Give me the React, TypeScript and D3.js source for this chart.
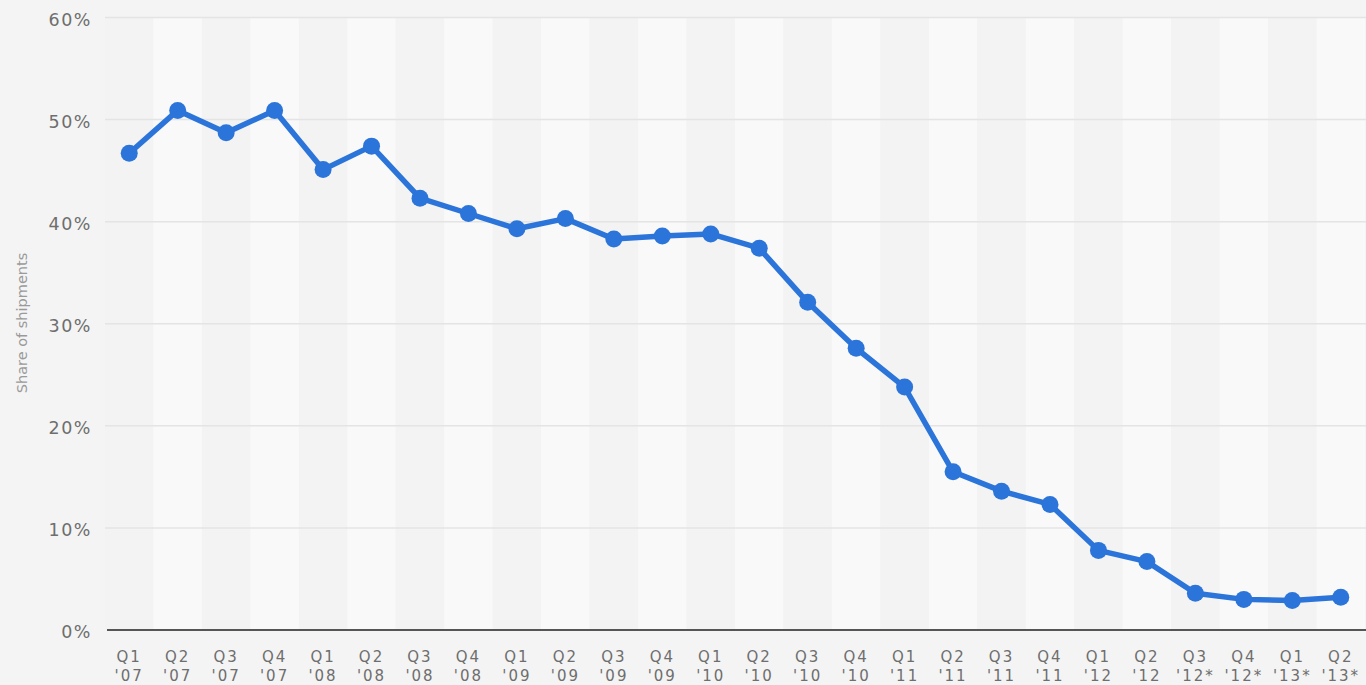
import React from 'react';
import * as d3 from 'd3';

const quarters = ['Q1', 'Q2', 'Q3', 'Q4', 'Q1', 'Q2', 'Q3', 'Q4', 'Q1', 'Q2', 'Q3', 'Q4', 'Q1', 'Q2', 'Q3', 'Q4', 'Q1', 'Q2', 'Q3', 'Q4', 'Q1', 'Q2', 'Q3', 'Q4', 'Q1', 'Q2'];
const years = ["'07", "'07", "'07", "'07", "'08", "'08", "'08", "'08", "'09", "'09", "'09", "'09", "'10", "'10", "'10", "'10", "'11", "'11", "'11", "'11", "'12", "'12", "'12*", "'12*", "'13*", "'13*"];
const shares = [46.7, 50.9, 48.7, 50.9, 45.1, 47.4, 42.3, 40.8, 39.3, 40.3, 38.3, 38.6, 38.8, 37.4, 32.1, 27.6, 23.8, 15.5, 13.6, 12.3, 7.8, 6.7, 3.6, 3.0, 2.9, 3.2];
const yTicks = [0, 10, 20, 30, 40, 50, 60];

const W = 1366;
const H = 685;

export default function App() {
  const ids = shares.map((_, i) => i);

  const x = d3.scaleBand<number>()
    .domain(ids)
    .range([105, 1365])
    .padding(0);

  const y = d3.scaleLinear()
    .domain([0, 60])
    .range([630, 17.5]);

  const cx = (i: number) => (x(i) as number) + x.bandwidth() / 2;

  const line = d3.line<number>()
    .x((d, i) => cx(i))
    .y((d) => y(d));

  const labelFont = '"DejaVu Sans", Verdana, sans-serif';

  return (
    <svg width={W} height={H} style={{ position: 'absolute', left: 0, top: 0, background: '#f4f4f4' }}>
      <rect x={0} y={0} width={W} height={H} fill="#f4f4f4" />

      {/* alternating column bands */}
      {ids.map((i) => (
        <rect
          key={'band' + i}
          x={x(i)}
          y={y(60)}
          width={x.bandwidth()}
          height={y(0) - y(60)}
          fill={i % 2 === 0 ? '#f3f3f3' : '#f9f9f9'}
        />
      ))}

      {/* gridlines */}
      {yTicks.filter((t) => t > 0).map((t) => (
        <line
          key={'grid' + t}
          x1={105}
          x2={W}
          y1={y(t)}
          y2={y(t)}
          stroke="#e4e4e4"
          strokeWidth={1.5}
        />
      ))}

      {/* y labels */}
      {yTicks.map((t) => (
        <text
          key={'yl' + t}
          x={92}
          y={y(t) + 2}
          textAnchor="end"
          dominantBaseline="central"
          fontFamily={labelFont}
          fontSize={17.5}
          letterSpacing={1.5}
          fill="#6e6e6e"
        >
          {t + '%'}
        </text>
      ))}

      <text
        transform={`translate(27, ${323}) rotate(-90)`}
        textAnchor="middle"
        fontFamily={labelFont}
        fontSize={14.5}
        fill="#9a9a9a"
      >
        Share of shipments
      </text>

      {/* baseline */}
      <line x1={107} x2={W} y1={y(0)} y2={y(0)} stroke="#555" strokeWidth={2} />

      {/* x labels, two lines each */}
      {ids.map((i) => (
        <g key={'xl' + i} fontFamily={labelFont} fontSize={15} letterSpacing={2} fill="#6e6e6e" textAnchor="middle">
          <text x={cx(i)} y={662}>{quarters[i]}</text>
          <text x={cx(i)} y={680.5}>{years[i]}</text>
        </g>
      ))}

      {/* series */}
      <path
        d={line(shares) || ''}
        fill="none"
        stroke="#2b74d9"
        strokeWidth={5.5}
        strokeLinejoin="round"
      />
      {shares.map((v, i) => (
        <circle key={'pt' + i} cx={cx(i)} cy={y(v)} r={8.5} fill="#2b74d9" />
      ))}
    </svg>
  );
}
